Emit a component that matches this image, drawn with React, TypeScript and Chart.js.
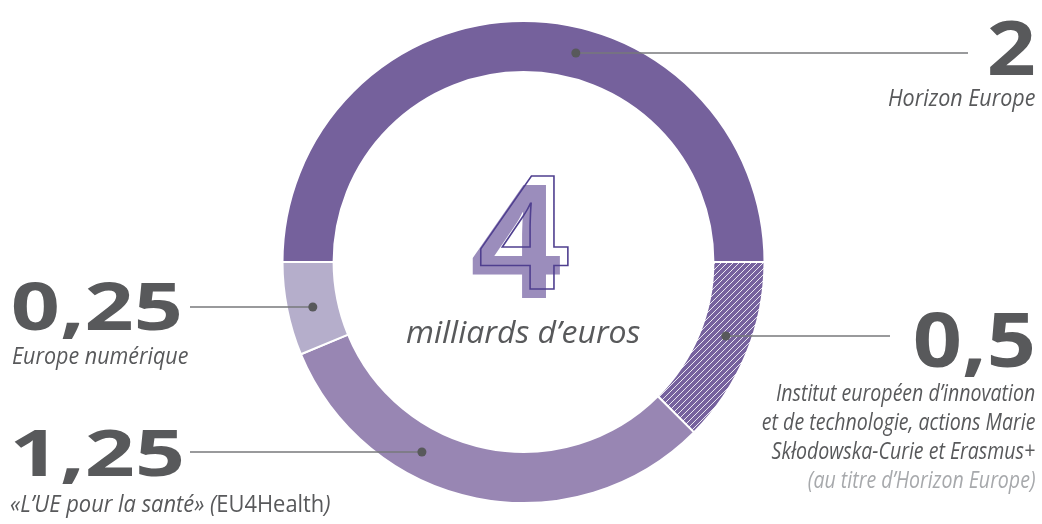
import React, { useEffect, useRef } from 'react';
import { Chart, registerables } from 'chart.js';

Chart.register(...registerables);

// ---------- data ----------
const categories = [
  'Horizon Europe',
  'Institut européen d’innovation et de technologie, actions Marie Skłodowska-Curie et Erasmus+',
  '«L’UE pour la santé» (EU4Health)',
  'Europe numérique',
];
const values = [2, 0.5, 1.25, 0.25];
const unitLabel = 'milliards d’euros';
const labelHorizon = ['Horizon Europe'];
const labelEit = [
  'Institut européen d’innovation',
  'et de technologie, actions Marie',
  'Skłodowska-Curie et Erasmus+',
];
const noteEit = '(au titre d’Horizon Europe)';
const labelHealth = ['«L’UE pour la santé» (', 'EU4Health', ')'];
const labelDigital = ['Europe numérique'];

// ---------- styles ----------
const segColors = ['#75619c', 'HATCH', '#9886b3', '#b5aecb'];
const hatchBase = '#76629e';
const textDark = '#58595b';
const textLight = '#a7a9ac';
const leaderColor = '#77787b';
const fillFour = '#9b8dbc';
const strokeFour = '#4f3f8f';
const FONT = '"Open Sans", "Noto Sans", sans-serif';

const fmt = (v: number) => String(v).replace('.', ',');

type Run = { text: string; font: string; color: string };

function measureRuns(ctx: CanvasRenderingContext2D, runs: Run[]) {
  let adv = 0;
  let minL = Infinity;
  let maxR = -Infinity;
  let asc = 0;
  const widths: number[] = [];
  runs.forEach((r) => {
    ctx.font = r.font;
    const m = ctx.measureText(r.text);
    minL = Math.min(minL, adv - m.actualBoundingBoxLeft);
    maxR = Math.max(maxR, adv + m.actualBoundingBoxRight);
    asc = Math.max(asc, m.actualBoundingBoxAscent);
    widths.push(m.width);
    adv += m.width;
  });
  return { minL, maxR, asc, widths };
}

// Draw runs so that their ink spans [x0,x1]; optional top fits the height
function drawFit(
  ctx: CanvasRenderingContext2D,
  runs: Run[],
  x0: number,
  x1: number,
  base: number,
  top?: number,
  stroke?: { color: string; width: number }
) {
  const { minL, maxR, asc, widths } = measureRuns(ctx, runs);
  const sx = (x1 - x0) / (maxR - minL);
  const sy = top !== undefined ? (base - top) / asc : 1;
  ctx.save();
  ctx.translate(x0 - minL * sx, base);
  ctx.scale(sx, sy);
  ctx.textAlign = 'left';
  ctx.textBaseline = 'alphabetic';
  let a = 0;
  runs.forEach((r, i) => {
    ctx.font = r.font;
    if (stroke) {
      ctx.strokeStyle = stroke.color;
      ctx.lineWidth = stroke.width / Math.max(sx, sy);
      ctx.lineJoin = 'miter';
      ctx.strokeText(r.text, a, 0);
    } else {
      ctx.fillStyle = r.color;
      ctx.fillText(r.text, a, 0);
    }
    a += widths[i];
  });
  ctx.restore();
  return sx;
}

// Draw runs right-aligned (ink) at xr with a horizontal scale
function drawRight(ctx: CanvasRenderingContext2D, runs: Run[], xr: number, base: number, sx: number) {
  const { maxR, widths } = measureRuns(ctx, runs);
  ctx.save();
  ctx.translate(xr - maxR * sx, base);
  ctx.scale(sx, 1);
  ctx.textAlign = 'left';
  ctx.textBaseline = 'alphabetic';
  let a = 0;
  runs.forEach((r, i) => {
    ctx.font = r.font;
    ctx.fillStyle = r.color;
    ctx.fillText(r.text, a, 0);
    a += widths[i];
  });
  ctx.restore();
}

// ---------- layout ----------
const numFont = `700 80px ${FONT}`;
const labFont = `italic 400 23px ${FONT}`;
const labFontUp = `400 23px ${FONT}`;
// per segment: leader y, leader outer end, side, number ink box
const leaders = [
  { y: 53, end: 968, side: 1, num: { x0: 990, x1: 1034, top: 19, base: 75 } },
  { y: 336, end: 890, side: 1, num: { x0: 915, x1: 1033, top: 312, base: 367 } },
  { y: 452, end: 190, side: -1, num: { x0: 14, x1: 182, top: 428, base: 476 } },
  { y: 307, end: 190, side: -1, num: { x0: 13, x1: 180, top: 281, base: 330 } },
];

function makeHatch(): CanvasPattern | string {
  const s = 6;
  const c = document.createElement('canvas');
  c.width = s;
  c.height = s;
  const g = c.getContext('2d');
  if (!g) return hatchBase;
  g.fillStyle = hatchBase;
  g.fillRect(0, 0, s, s);
  g.strokeStyle = 'rgba(255,255,255,0.85)';
  g.lineWidth = 1;
  g.beginPath();
  g.moveTo(0, s);
  g.lineTo(s, 0);
  g.moveTo(-s / 2, s / 2);
  g.lineTo(s / 2, -s / 2);
  g.moveTo(s / 2, s * 1.5);
  g.lineTo(s * 1.5, s / 2);
  g.stroke();
  return g.createPattern(c, 'repeat') || hatchBase;
}

const overlayPlugin = {
  id: 'overlay',
  afterDatasetsDraw(chart: any) {
    const ctx: CanvasRenderingContext2D = chart.ctx;
    const arc: any = chart.getDatasetMeta(0).data[0];
    const cx = arc.x;
    const cy = arc.y;
    const rm = (arc.outerRadius + arc.innerRadius) / 2;
    leaders.forEach((l) => {
      const dy = l.y - cy;
      const dx = Math.sqrt(Math.max(rm * rm - dy * dy, 0));
      const px = cx + l.side * dx;
      ctx.save();
      ctx.strokeStyle = leaderColor;
      ctx.lineWidth = 1.5;
      ctx.beginPath();
      ctx.moveTo(px, l.y);
      ctx.lineTo(l.end, l.y);
      ctx.stroke();
      ctx.fillStyle = textDark;
      ctx.beginPath();
      ctx.arc(px, l.y, 4.5, 0, Math.PI * 2);
      ctx.fill();
      ctx.restore();
    });
  },
  afterDraw(chart: any) {
    const ctx: CanvasRenderingContext2D = chart.ctx;
    const data: number[] = chart.data.datasets[0].data;
    // numbers
    data.forEach((v, i) => {
      const n = leaders[i].num;
      drawFit(ctx, [{ text: fmt(v), font: numFont, color: textDark }], n.x0, n.x1, n.base, n.top);
    });
    // labels
    drawFit(ctx, [{ text: labelHorizon[0], font: labFont, color: textDark }], 888, 1035, 106);
    const sx = drawFit(ctx, [{ text: labelEit[0], font: labFont, color: textDark }], 776, 1035, 401);
    drawRight(ctx, [{ text: labelEit[1], font: labFont, color: textDark }], 1035, 430, sx);
    drawRight(ctx, [{ text: labelEit[2], font: labFont, color: textDark }], 1035, 459, sx);
    drawRight(ctx, [{ text: noteEit, font: labFont, color: textLight }], 1035, 488, sx);
    drawFit(
      ctx,
      [
        { text: labelHealth[0], font: labFont, color: textDark },
        { text: labelHealth[1], font: labFontUp, color: textDark },
        { text: labelHealth[2], font: labFont, color: textDark },
      ],
      10,
      330,
      512
    );
    drawFit(ctx, [{ text: labelDigital[0], font: labFont, color: textDark }], 12, 188, 364);
    // centre total
    const total = data.reduce((a, b) => a + b, 0);
    const totalRuns = [{ text: fmt(total), font: `700 160px ${FONT}`, color: fillFour }];
    drawFit(ctx, totalRuns, 472, 560, 298, 185);
    drawFit(ctx, totalRuns, 480, 568, 289, 176, { color: strokeFour, width: 1.6 });
    drawFit(ctx, [{ text: unitLabel, font: `italic 400 31px ${FONT}`, color: textDark }], 406, 640, 343);
  },
};

export default function App() {
  const canvasRef = useRef<HTMLCanvasElement | null>(null);

  useEffect(() => {
    document.body.style.margin = '0';
    const canvas = canvasRef.current;
    if (!canvas) return;
    const hatch = makeHatch();
    const colors = segColors.map((c) => (c === 'HATCH' ? hatch : c));
    const chart = new Chart(canvas, {
      type: 'doughnut',
      data: {
        labels: categories,
        datasets: [
          {
            data: values,
            backgroundColor: colors as any,
            borderColor: '#ffffff',
            borderWidth: 2,
            hoverBorderWidth: 2,
            offset: 0,
            hoverOffset: 0,
          },
        ],
      },
      options: {
        responsive: false,
        maintainAspectRatio: false,
        animation: false,
        events: [],
        rotation: -90,
        cutout: '78.8%',
        layout: { padding: { top: 20, bottom: 20, left: 281.5, right: 276.5 } },
        plugins: {
          legend: { display: false },
          tooltip: { enabled: false },
        },
      },
      plugins: [overlayPlugin],
    } as any);
    return () => chart.destroy();
  }, []);

  return (
    <div
      style={{
        position: 'fixed',
        left: 0,
        top: 0,
        width: 1042,
        height: 524,
        background: '#ffffff',
      }}
    >
      <canvas ref={canvasRef} width={1042} height={524} style={{ display: 'block' }} />
    </div>
  );
}
